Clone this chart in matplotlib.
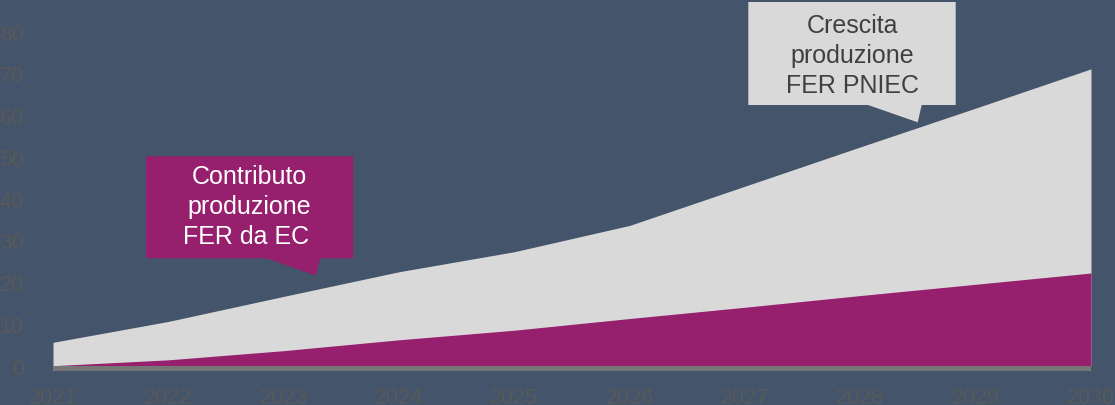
import matplotlib
matplotlib.use("Agg")
import matplotlib.pyplot as plt
from matplotlib.patches import Polygon

plt.rcParams['font.family'] = ['Liberation Sans', 'DejaVu Sans']

# ---- data ----
years = [2021, 2022, 2023, 2024, 2025, 2026, 2027, 2028, 2029, 2030]
contributo_ec = [0.0, 1.4, 3.6, 6.2, 8.5, 11.3, 14.0, 16.8, 19.5, 22.2]
crescita_pniec = [5.6, 10.6, 16.6, 22.5, 27.3, 33.6, 43.0, 52.4, 61.7, 71.1]
yticks = [0, 10, 20, 30, 40, 50, 60, 70, 80]
label_ec = "Contributo\nproduzione\nFER da EC "
label_pniec = "Crescita\nproduzione\nFER PNIEC"

# ---- style ----
BG = '#44546A'
MAGENTA = '#96206E'
LIGHT = '#D9D9D9'
BASE = '#767676'
TICK = '#595959'

W, H = 1115, 406
fig = plt.figure(figsize=(W / 100, H / 100), dpi=100, facecolor=BG)

# axes in pixel layout
left, right = 53, 1091
top, bottom = 32.7, 371.7
ax = fig.add_axes([left / W, 1 - bottom / H, (right - left) / W, (bottom - top) / H])
ax.set_facecolor(BG)

ax.fill_between(years, 0, crescita_pniec, color=LIGHT, lw=0, zorder=1)
ax.fill_between(years, 0, contributo_ec, color=MAGENTA, lw=0, zorder=2)
ax.fill_between(years, -1.2, 0, color=BASE, lw=0, zorder=3)

ax.set_xlim(years[0], years[-1])
ax.set_ylim(-1.2, 80)
ax.set_xticks(years)
ax.set_xticklabels([str(y) for y in years])
ax.set_yticks(yticks)
ax.tick_params(axis='both', length=0, labelsize=15.5, colors=TICK)
ax.tick_params(axis='y', pad=21)
ax.tick_params(axis='x', pad=12)
for s in ax.spines.values():
    s.set_visible(False)


def px(x, y):
    return (x / W, 1 - y / H)


# magenta callout
poly1 = [px(146, 157.3), px(353.3, 157.3), px(353.3, 259.3), px(320, 259.3),
         px(316, 276.7), px(266.7, 259.3), px(146, 259.3)]
fig.patches.append(Polygon(poly1, closed=True, transform=fig.transFigure,
                           facecolor=MAGENTA, edgecolor='none', zorder=5))
fig.text(*px(249.5, 207), label_ec, ha='center', va='center', color='white',
         fontsize=18, linespacing=1.3, zorder=6)

# gray callout
poly2 = [px(748.3, 3), px(955.7, 3), px(955.7, 106), px(921.7, 106),
         px(917.7, 123.3), px(868, 106), px(748.3, 106)]
fig.patches.append(Polygon(poly2, closed=True, transform=fig.transFigure,
                           facecolor=LIGHT, edgecolor='none', zorder=5))
fig.text(*px(852, 56), label_pniec, ha='center', va='center', color='#404040',
         fontsize=18, linespacing=1.3, zorder=6)

fig.savefig('out.png', dpi=100, facecolor=BG)
